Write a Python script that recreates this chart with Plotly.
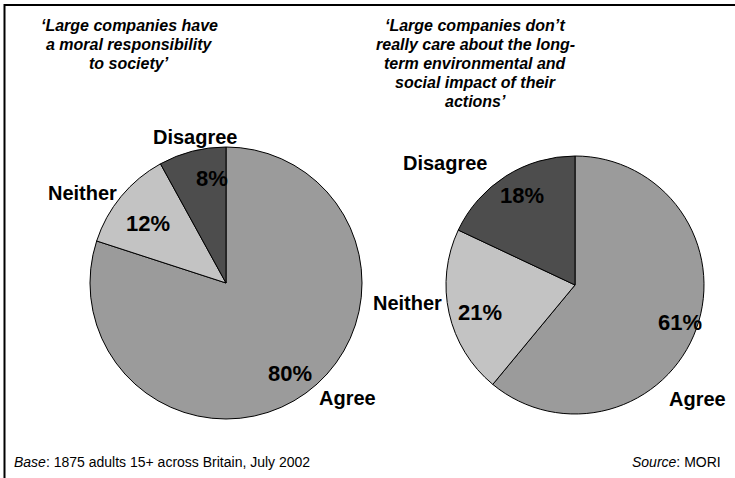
import plotly.graph_objects as go

# Survey answers for the two statements
categories = ["Agree", "Neither", "Disagree"]
moral_values = [80, 12, 8]
care_values = [61, 21, 18]

title_left = ["\u2018Large companies have", "a moral responsibility", "to society\u2019"]
title_right = ["\u2018Large companies don\u2019t", "really care about the long-",
               "term environmental and", "social impact of their", "actions\u2019"]

base_note = "<i>Base</i>: 1875 adults 15+ across Britain, July 2002"
source_note = "<i>Source</i>: MORI"

slice_colors = ["#9b9b9b", "#c3c3c3", "#4d4d4d"]

W, H = 735, 478
FONT = "Liberation Sans, Arial, Helvetica, sans-serif"


def px_x(x):
    return x / W


def px_y(y):
    return 1 - y / H


def pie_domain(cx, cy, r):
    return dict(x=[px_x(cx - r), px_x(cx + r)], y=[px_y(cy + r), px_y(cy - r)])


def text_at(x, y, text, size, xanchor="center"):
    return dict(x=px_x(x), y=px_y(y), xref="paper", yref="paper",
                xanchor=xanchor, yanchor="middle", text=text, showarrow=False,
                font=dict(family=FONT, size=size, color="#000"))


fig = go.Figure()

pies = [
    (moral_values, (226, 283, 136)),
    (care_values, (575, 285, 129)),
]
for vals, (cx, cy, r) in pies:
    fig.add_trace(go.Pie(
        labels=categories, values=vals, sort=False, direction="clockwise",
        rotation=0, domain=pie_domain(cx, cy, r),
        marker=dict(colors=slice_colors, line=dict(color="#000000", width=1)),
        textinfo="none", hoverinfo="label+percent", showlegend=False,
    ))

annotations = []

# Category names and percentages placed around each pie
label_pos = {
    0: {"Agree": (347, 398), "Neither": (82, 193), "Disagree": (195, 137)},
    1: {"Agree": (697, 399), "Neither": (407, 303), "Disagree": (445, 163)},
}
pct_pos = {
    0: {"Agree": (290, 373), "Neither": (148, 223), "Disagree": (212, 178)},
    1: {"Agree": (680, 322), "Neither": (480, 312), "Disagree": (522, 195)},
}
for i, vals in enumerate([moral_values, care_values]):
    for cat, v in zip(categories, vals):
        lx, ly = label_pos[i][cat]
        annotations.append(text_at(lx, ly, f"<b>{cat}</b>", 20))
        tx, ty = pct_pos[i][cat]
        annotations.append(text_at(tx, ty, f"<b>{v}%</b>", 22))

# Titles, one line per annotation
for lines, cx, y0 in [(title_left, 129, 26), (title_right, 475, 26)]:
    for k, line in enumerate(lines):
        annotations.append(text_at(cx, y0 + 18.8 * k, f"<b><i>{line}</i></b>", 16))

annotations.append(text_at(12, 462, base_note, 14, xanchor="left"))
annotations.append(text_at(723, 462, source_note, 14, xanchor="right"))

# Frame lines along the top and left edges
shapes = [
    dict(type="line", xref="paper", yref="paper", x0=px_x(4), x1=1, y0=px_y(5), y1=px_y(5),
         line=dict(color="#000", width=2)),
    dict(type="line", xref="paper", yref="paper", x0=px_x(4.5), x1=px_x(4.5), y0=px_y(4), y1=0,
         line=dict(color="#000", width=2)),
]

fig.update_layout(
    width=W, height=H, margin=dict(l=0, r=0, t=0, b=0),
    paper_bgcolor="#ffffff", plot_bgcolor="#ffffff",
    annotations=annotations, shapes=shapes,
)

fig.write_html("out.html")
